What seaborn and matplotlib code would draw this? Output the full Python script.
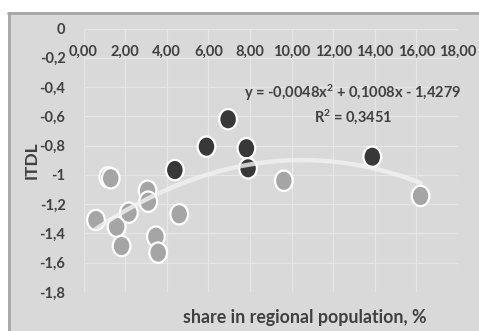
import numpy as np
import pandas as pd
import matplotlib
matplotlib.use("Agg")
import matplotlib.pyplot as plt
from matplotlib.path import Path
from matplotlib.lines import Line2D
from matplotlib.patches import Rectangle
import seaborn as sns

# ---- data ----
dark_x = [4.39, 5.91, 6.95, 7.83, 7.91, 13.88]
dark_y = [-0.967, -0.807, -0.620, -0.818, -0.955, -0.876]
light_x = [1.19, 1.31, 0.60, 1.59, 1.83, 2.18, 3.08, 3.11, 3.48, 3.59, 4.60, 9.63, 16.20]
light_y = [-1.016, -1.023, -1.308, -1.354, -1.486, -1.258, -1.108, -1.183, -1.422, -1.531, -1.269, -1.040, -1.144]
trend_coef = [-0.0048, 0.1008, -1.4279]
equation_text = "y = -0,0048x$^2$ + 0,1008x - 1,4279"
r2_text = "R$^2$ = 0,3451"
x_ticks = [0, 2, 4, 6, 8, 10, 12, 14, 16, 18]
x_ticklabels = ["0,00", "2,00", "4,00", "6,00", "8,00", "10,00", "12,00", "14,00", "16,00", "18,00"]
y_ticks = [0, -0.2, -0.4, -0.6, -0.8, -1.0, -1.2, -1.4, -1.6, -1.8]
y_ticklabels = ["0", "-0,2", "-0,4", "-0,6", "-0,8", "-1", "-1,2", "-1,4", "-1,6", "-1,8"]
x_label = "share in regional population, %"
y_label = "ITDL"

df = pd.DataFrame({
    "x": light_x + dark_x,
    "y": light_y + dark_y,
    "group": ["light"] * len(light_x) + ["dark"] * len(dark_x),
})

sns.set_theme(style="white")
plt.rcParams["font.family"] = ["Lato", "DejaVu Sans"]
plt.rcParams["mathtext.fontset"] = "custom"
plt.rcParams["mathtext.rm"] = "Lato:bold"
plt.rcParams["mathtext.it"] = "Lato:bold"
plt.rcParams["mathtext.bf"] = "Lato:bold"

W, H = 479, 331
fig = plt.figure(figsize=(W / 100, H / 100), dpi=100)
fig.patch.set_facecolor("white")

# chart area background with top/left border
fig.patches.append(Rectangle((8 / W, 0), 1 - 8 / W, 1 - 12 / H, transform=fig.transFigure,
                             facecolor="#d9d9d9", edgecolor="none", zorder=-10))
fig.lines.append(Line2D([8 / W, 1], [1 - 12.5 / H, 1 - 12.5 / H], transform=fig.transFigure,
                        color="#a6a6a6", lw=2, zorder=-9))
fig.lines.append(Line2D([8.5 / W, 8.5 / W], [0, 1 - 12.5 / H], transform=fig.transFigure,
                        color="#a6a6a6", lw=2, zorder=-9))

left, right, top, bottom = 83.5, 458, 28.5, 292
ax = fig.add_axes([left / W, 1 - bottom / H, (right - left) / W, (bottom - top) / H])
ax.set_facecolor("none")

# elliptical marker (slightly taller than wide, like the reference)
circ = Path.unit_circle()
ell = Path(circ.vertices * np.array([1.0, 1.15]), circ.codes)

sns.scatterplot(data=df, x="x", y="y", hue="group",
                palette={"light": "#a5a5a5", "dark": "#383838"},
                marker=ell, s=215, edgecolor="white", linewidth=1.6,
                legend=False, ax=ax, zorder=3)

# polynomial trendline over the data range
xs = np.linspace(min(df["x"]), max(df["x"]), 200)
ys = np.polyval(trend_coef, xs)
sns.lineplot(x=xs, y=ys, color="#f2f2f2", lw=3.2, alpha=0.8, ax=ax, zorder=4)

ax.set_xlim(0, 18)
ax.set_ylim(-1.8, 0)
ax.xaxis.tick_top()
ax.xaxis.set_label_position("bottom")
ax.set_xticks(x_ticks)
ax.set_xticklabels(x_ticklabels)
ax.set_yticks(y_ticks)
ax.set_yticklabels(y_ticklabels)
ax.tick_params(axis="x", length=0, pad=-22, labelsize=10.5, labelcolor="#404040")
ax.tick_params(axis="y", length=0, pad=13, labelsize=10.5, labelcolor="#404040")
for lab in ax.get_xticklabels() + ax.get_yticklabels():
    lab.set_fontweight("bold")
ax.grid(True, color="#e6e6e6", lw=0.9)
ax.set_axisbelow(True)
for s in ax.spines.values():
    s.set_visible(False)
ax.set_xlabel(x_label, fontsize=12.8, fontweight="bold", color="#404040")
ax.set_ylabel(y_label, fontsize=12.5, fontweight="bold", color="#404040")
ax.xaxis.set_label_coords((305 - left) / (right - left), (bottom - 317) / (bottom - top))
ax.xaxis.label.set_va("center")
ax.yaxis.set_label_coords((32 - left) / (right - left), 0.5)
ax.yaxis.label.set_va("center")

fig.text(353 / W, 1 - 93 / H, equation_text, ha="center", va="center",
         fontsize=10.5, fontweight="bold", color="#404040", zorder=5)
fig.text(353 / W, 1 - 117 / H, r2_text, ha="center", va="center",
         fontsize=10.5, fontweight="bold", color="#404040", zorder=5)

fig.savefig("out.png", dpi=100)
